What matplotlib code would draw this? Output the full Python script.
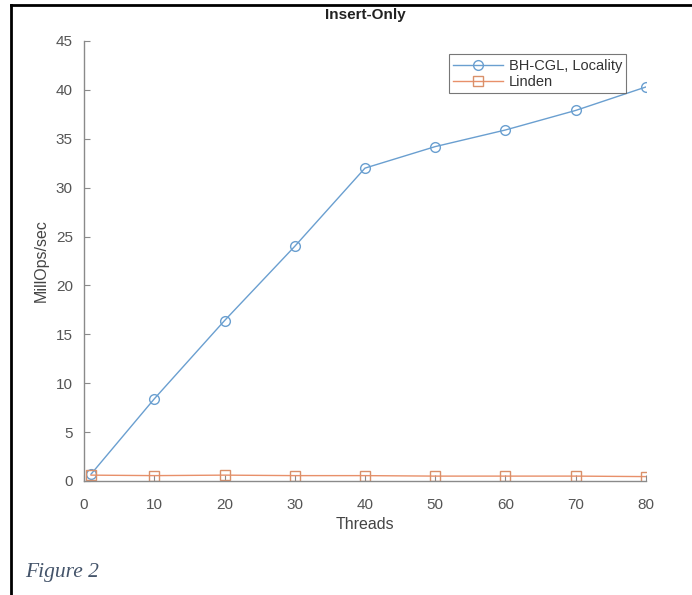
import matplotlib.pyplot as plt
from matplotlib.lines import Line2D

plt.rcParams["font.family"] = ["Liberation Sans", "DejaVu Sans"]

# donnees
threads = [1, 10, 20, 30, 40, 50, 60, 70, 80]
bh_cgl = [0.7, 8.4, 16.4, 24.0, 32.0, 34.2, 35.9, 37.9, 40.3]
linden = [0.6, 0.55, 0.6, 0.55, 0.55, 0.5, 0.5, 0.5, 0.45]

x_ticks = [0, 10, 20, 30, 40, 50, 60, 70, 80]
y_ticks = [0, 5, 10, 15, 20, 25, 30, 35, 40, 45]

fig = plt.figure(figsize=(6.92, 5.95), dpi=100)
ax = fig.add_axes([0.1214, 0.1916, 0.8121, 0.7395])

ax.plot(threads, bh_cgl, color="#6A9FD0", lw=1.0, marker="o", ms=7,
        mfc="none", mec="#6A9FD0", mew=1.0, label="BH-CGL, Locality")
ax.plot(threads, linden, color="#E8906A", lw=1.0, marker="s", ms=7,
        mfc="none", mec="#D9906A", mew=1.0, label="Linden")

ax.set_xlim(0, 80)
ax.set_ylim(0, 45)
ax.set_xticks(x_ticks)
ax.set_yticks(y_ticks)

for side in ["top", "right"]:
    ax.spines[side].set_visible(False)
for side in ["left", "bottom"]:
    ax.spines[side].set_color("#8a8a8a")
    ax.spines[side].set_linewidth(1.0)
ax.tick_params(direction="in", length=4, color="#8a8a8a", labelcolor="#555555",
               labelsize=11)
ax.tick_params(axis="x", pad=12)
ax.tick_params(axis="y", pad=8)

ax.set_title("Insert-Only", fontsize=11, fontweight="bold", color="#222222", pad=16)
ax.set_xlabel("Threads", fontsize=11.5, color="#444444", labelpad=4)
ax.set_ylabel("MillOps/sec", fontsize=11.5, color="#444444", labelpad=5)

leg = ax.legend(loc="upper right", bbox_to_anchor=(0.978, 0.986), fontsize=10.5,
                frameon=True, fancybox=False, handlelength=3.4,
                borderpad=0.3, labelspacing=0.15, handletextpad=0.4)
leg.get_frame().set_edgecolor("#555555")
leg.get_frame().set_linewidth(0.8)
for t in leg.get_texts():
    t.set_color("#333333")

# cadre du document
fig.add_artist(Line2D([0.016, 1.0], [0.991, 0.991], color="black", lw=2.0,
                      transform=fig.transFigure))
fig.add_artist(Line2D([0.016, 0.016], [0.0, 0.991], color="black", lw=2.0,
                      transform=fig.transFigure))

fig.text(0.036, 0.03, "Figure 2", fontsize=15.5, style="italic",
         family="Liberation Serif", color="#44546A")

plt.savefig("out.png", dpi=100)
